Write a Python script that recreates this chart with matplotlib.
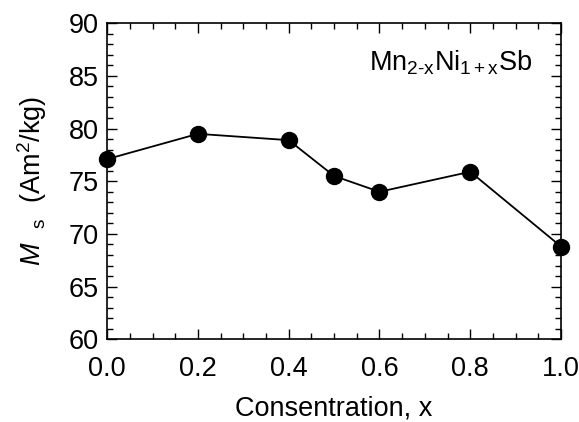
import matplotlib
matplotlib.use("Agg")
import matplotlib.pyplot as plt
from matplotlib.ticker import MultipleLocator, FormatStrFormatter

plt.rcParams['font.family'] = ['Liberation Sans', 'DejaVu Sans']
plt.rcParams['mathtext.fontset'] = 'custom'
plt.rcParams['mathtext.rm'] = 'Liberation Sans'
plt.rcParams['mathtext.it'] = 'Liberation Sans:italic'

# concentratie x en verzadigingsmagnetisatie
conc = [0.0, 0.2, 0.4, 0.5, 0.6, 0.8, 1.0]
ms = [77.1, 79.5, 78.9, 75.5, 74.0, 75.9, 68.8]

fig, ax = plt.subplots(figsize=(5.79, 4.22), dpi=100)
fig.subplots_adjust(left=0.185, right=0.969, top=0.945, bottom=0.196)

ax.plot(conc, ms, '-o', color='black', lw=1.3, markersize=11.5, clip_on=False, zorder=5)

ax.set_xlim(0, 1)
ax.set_ylim(60, 90)
ax.xaxis.set_major_locator(MultipleLocator(0.2))
ax.xaxis.set_minor_locator(MultipleLocator(0.05))
ax.yaxis.set_major_locator(MultipleLocator(5))
ax.yaxis.set_minor_locator(MultipleLocator(1))
ax.xaxis.set_major_formatter(FormatStrFormatter('%.1f'))
ax.tick_params(which='both', direction='in', top=True, right=True, labelsize=19.5, width=1)
ax.tick_params(which='major', length=7)
ax.tick_params(which='minor', length=4)
ax.tick_params(axis='x', which='major', pad=12)
ax.tick_params(axis='y', which='major', pad=6)
for s in ax.spines.values():
    s.set_linewidth(1.2)

ax.set_xlabel("Consentration, x", fontsize=19.5, labelpad=10)
ax.set_ylabel(r"$M$  $_{\rm s}$  (Am$^2$/kg)", fontsize=19.5, labelpad=14)

ax.text(0.578, 86.2, r"Mn$_{\rm 2\text{-}x}$Ni$_{\rm 1+x}$Sb", fontsize=19.5, va='center', ha='left')

fig.savefig("out.png", dpi=100)
